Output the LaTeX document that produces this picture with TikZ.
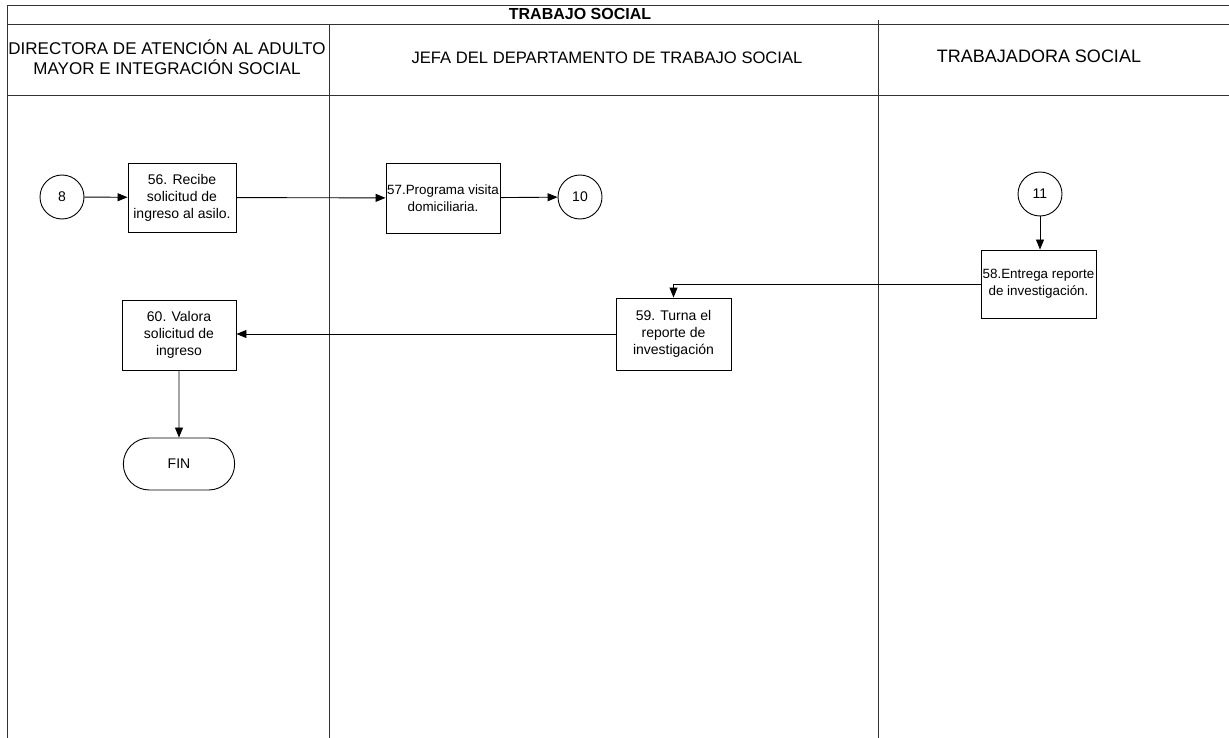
\documentclass[tikz,border=0pt]{standalone}
\usepackage{fontspec}
\setmainfont{Liberation Sans}
\usetikzlibrary{arrows.meta,shapes.misc}
\begin{document}
\begin{tikzpicture}[x=1pt,y=-1pt,
  ln/.style={line width=0.9pt, draw=black!80},
  box/.style={draw, line width=0.9pt, align=center, inner sep=0pt,
    font=\fontsize{14}{17}\selectfont},
  tight/.style={font=\fontsize{13.4}{17}\selectfont},
  conn/.style={circle, draw, line width=0.9pt, minimum size=44pt, inner sep=0pt,
    font=\fontsize{14}{16}\selectfont},
  term/.style={rounded rectangle, draw, line width=0.9pt, minimum width=118pt, minimum height=52pt,
    font=\fontsize{14}{16}\selectfont},
  hdr/.style={align=center, font=\fontsize{17}{20}\selectfont},
  arr/.style={line width=0.9pt, -{Triangle[length=10pt,width=8pt]}}]
\useasboundingbox (0,0) rectangle (1229,738);
% frame lines
\draw[ln] (7,738) -- (7,5) -- (1229,5);
\draw[ln] (7,24) -- (1229,24);
\draw[ln] (7,95) -- (1229,95);
\draw[ln] (329,24) -- (329,738);
\draw[ln] (878,20) -- (878,738);
% headers
\node[font=\bfseries\fontsize{16}{18}\selectfont] (title) at (580,14) {TRABAJO SOCIAL};
\node[hdr] (h1) at (167,57.5) {DIRECTORA DE ATENCIÓN AL ADULTO\\MAYOR E INTEGRACIÓN SOCIAL};
\node[hdr, font=\fontsize{16.6}{20}\selectfont] (h2) at (607,58) {JEFA DEL DEPARTAMENTO DE TRABAJO SOCIAL};
\node[hdr, font=\fontsize{18}{20}\selectfont] (h3) at (1039,56) {TRABAJADORA SOCIAL};
% nodes
\node[conn] (c8) at (62,197) {8};
\node[box, minimum width=108pt, minimum height=69pt] (n56) at (182,197.5) {56. Recibe\\solicitud de\\ingreso al asilo.};
\node[box, tight, minimum width=114pt, minimum height=70pt] (n57) at (443,198) {57.Programa visita\\domiciliaria.};
\node[conn] (c10) at (580,197) {10};
\node[conn] (c11) at (1040,194) {11};
\node[box, tight, minimum width=115pt, minimum height=68pt] (n58) at (1038.5,284) {58.Entrega reporte\\de investigación.};
\node[box, minimum width=115pt, minimum height=72pt] (n59) at (673.5,334) {59. Turna el\\reporte de\\investigación};
\node[box, minimum width=114pt, minimum height=70pt] (n60) at (179,335) {60. Valora\\solicitud de\\ingreso};
\node[term] (fin) at (179,464) {FIN};
% connectors
\draw[arr] (c8) -- (n56);
\draw[arr] (n56) -- (n57);
\draw[arr] (n57) -- (c10);
\draw[arr] (c11) -- (c11 |- n58.north);
\draw[arr] (n58.west) -| (n59.north);
\draw[arr] (n59.west) -- (n60.east |- n59.west);
\draw[arr] (n60) -- (fin);
\end{tikzpicture}
\end{document}
